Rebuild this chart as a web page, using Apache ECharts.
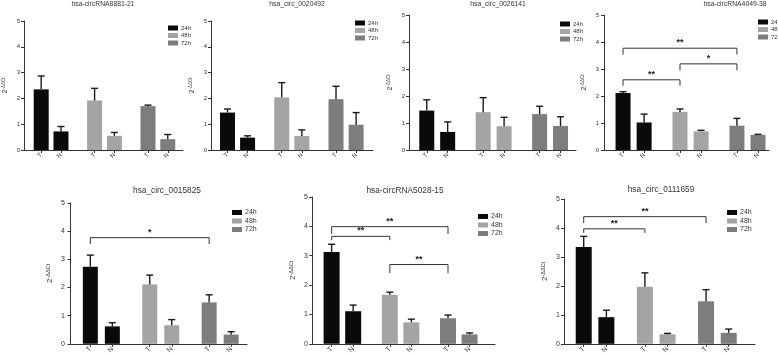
<!DOCTYPE html>
<html>
<head><meta charset="utf-8"></head>
<script type="text/javascript" src="https://cdn.jsdelivr.net/npm/echarts@6/dist/echarts.min.js"></script>
<body style="margin:0;background-color:white;">
    <div id="main" style="width:778px;height:356px;"></div>
</body>
<script>
// data (mean and SD per bar)
var panelTitles = ['hsa-circRNA8881-21', 'hsa_circ_0020492', 'hsa_circ_0026141', 'hsa-circRNA4049-38',
                   'hsa_circ_0015825', 'hsa-circRNA5028-15', 'hsa_circ_0111659']
var groups = ['24h', '48h', '72h']
var barLabels = ['T', 'N', 'T', 'N', 'T', 'N']
var barPos = [0.9, 1.9, 3.6, 4.6, 6.3, 7.3]
var yTicks = [0, 1, 2, 3, 4, 5]

var means = [
    [2.35, 0.72, 1.92, 0.55, 1.70, 0.42],
    [1.45, 0.48, 2.04, 0.54, 1.97, 0.98],
    [1.46, 0.67, 1.40, 0.88, 1.33, 0.89],
    [2.11, 1.02, 1.41, 0.69, 0.90, 0.56],
    [2.74, 0.62, 2.11, 0.66, 1.47, 0.33],
    [3.13, 1.11, 1.67, 0.73, 0.87, 0.32],
    [3.34, 0.92, 1.97, 0.33, 1.47, 0.38]
]
var sds = [
    [0.52, 0.19, 0.47, 0.13, 0.04, 0.18],
    [0.14, 0.07, 0.57, 0.24, 0.50, 0.47],
    [0.40, 0.37, 0.54, 0.33, 0.29, 0.34],
    [0.05, 0.31, 0.11, 0.04, 0.27, 0.02],
    [0.41, 0.13, 0.33, 0.20, 0.27, 0.10],
    [0.26, 0.21, 0.09, 0.11, 0.11, 0.05],
    [0.37, 0.24, 0.48, 0.03, 0.40, 0.13]
]
// significance brackets: [from bar, to bar, line y, arm end y, stars]
var brackets = [
    [],
    [],
    [],
    [[0, 4, 3.77, 3.53, '**'], [2, 4, 3.19, 2.95, '*'], [0, 2, 2.60, 2.38, '**']],
    [[0, 4, 3.77, 3.54, '*']],
    [[0, 4, 3.99, 3.74, '**'], [0, 2, 3.66, 3.53, '**'], [2, 4, 2.70, 2.41, '**']],
    [[0, 4, 4.39, 4.17, '**'], [0, 2, 3.97, 3.83, '**']]
]

var colors = ['#0a0a0a', '#a4a4a4', '#7d7d7d']
var font = 'Liberation Sans, Arial, sans-serif'

// panel boxes in px
var boxes = [
    {left: 21,  top: 21,  width: 162, height: 129, xMin: 0.03,  xMax: 8.07, tx: 103, ty: 1,   lx: 163, ly: 20,  bw: 15, fs: 6},
    {left: 211, top: 21,  width: 162, height: 129, xMin: 0.08,  xMax: 8.14, tx: 297, ty: 1,   lx: 350, ly: 15,  bw: 15, fs: 6},
    {left: 409, top: 15,  width: 167, height: 135, xMin: 0.05,  xMax: 8.04, tx: 498, ty: 1,   lx: 555, ly: 16,  bw: 15, fs: 6},
    {left: 603, top: 15,  width: 166, height: 135, xMin: -0.05, xMax: 7.82, tx: 735, ty: 1,   lx: 753, ly: 14,  bw: 15, fs: 6},
    {left: 69,  top: 203, width: 178, height: 141, xMin: -0.07, xMax: 8.02, tx: 167, ty: 187, lx: 227, ly: 204, bw: 15, fs: 7},
    {left: 312, top: 197, width: 183, height: 147, xMin: -0.01, xMax: 8.48, tx: 405, ty: 187, lx: 473, ly: 208, bw: 16, fs: 7},
    {left: 564, top: 199, width: 191, height: 145, xMin: 0.03,  xMax: 8.46, tx: 661, ty: 186, lx: 722, ly: 204, bw: 16, fs: 7}
]

var myChart = echarts.init(document.getElementById('main'))

var grids = [], xAxes = [], yAxes = [], titles = [], legends = [], series = []

boxes.forEach(function (b, p) {
    grids.push({left: b.left, top: b.top, width: b.width, height: b.height})
    titles.push({
        text: panelTitles[p], left: b.tx, top: b.ty, textAlign: 'center', padding: 0,
        textStyle: {fontSize: b.fs === 6 ? 6.8 : 8.3, fontWeight: 'normal', color: '#333', fontFamily: font}
    })
    legends.push({
        orient: 'vertical', left: b.lx, top: b.ly, icon: 'rect',
        itemWidth: 10, itemHeight: 5, itemGap: 1.5, selectedMode: false,
        textStyle: {fontSize: b.fs, color: '#333', fontFamily: font, padding: [0, 0, 0, -2]},
        data: groups
    })
    xAxes.push({
        gridIndex: p, type: 'value', min: b.xMin, max: b.xMax,
        splitLine: {show: false},
        axisLine: {lineStyle: {color: '#333', width: 1}},
        axisTick: {customValues: barPos, length: 3, lineStyle: {color: '#333'}},
        axisLabel: {
            customValues: barPos, rotate: 45, margin: 4, fontSize: b.fs, color: '#333', fontFamily: font,
            formatter: function (v) {
                var k = 0
                barPos.forEach(function (x, i) { if (Math.abs(x - v) < Math.abs(barPos[k] - v)) k = i })
                return barLabels[k]
            }
        }
    })
    yAxes.push({
        gridIndex: p, type: 'value', min: 0, max: 5, interval: 1,
        splitLine: {show: false},
        axisLine: {show: true, lineStyle: {color: '#333', width: 1}},
        axisTick: {show: true, length: 3, lineStyle: {color: '#333'}},
        axisLabel: {fontSize: b.fs, margin: 4, color: '#333', fontFamily: font},
        name: '{b|2}{s|-ΔΔCt}', nameLocation: 'middle', nameRotate: 90, nameGap: 14,
        nameTextStyle: {
            color: '#333', fontFamily: font,
            rich: {
                b: {fontSize: b.fs + 1, fontFamily: font, color: '#333'},
                s: {fontSize: b.fs - 1.5, fontFamily: font, color: '#333', padding: [0, 0, 4, 0]}
            }
        }
    })

    // bars, one series per time point
    groups.forEach(function (g, gi) {
        series.push({
            name: g, type: 'bar', xAxisIndex: p, yAxisIndex: p,
            barWidth: b.bw, barGap: '-100%',
            itemStyle: {color: colors[gi]},
            data: [[barPos[gi * 2], means[p][gi * 2]], [barPos[gi * 2 + 1], means[p][gi * 2 + 1]]]
        })
    })

    // upper error bars
    series.push({
        type: 'custom', xAxisIndex: p, yAxisIndex: p, z: 5,
        data: means[p].map(function (m, i) { return [barPos[i], m, m + sds[p][i]] }),
        encode: {x: 0, y: [1, 2]},
        renderItem: function (params, api) {
            var a = api.coord([api.value(0), api.value(1)])
            var t = api.coord([api.value(0), api.value(2)])
            var st = {stroke: '#1a1a1a', lineWidth: 1.4}
            return {type: 'group', children: [
                {type: 'line', shape: {x1: a[0], y1: a[1], x2: t[0], y2: t[1]}, style: st},
                {type: 'line', shape: {x1: t[0] - 3.5, y1: t[1], x2: t[0] + 3.5, y2: t[1]}, style: st}
            ]}
        }
    })

    // significance brackets
    if (brackets[p].length) {
        series.push({
            type: 'custom', xAxisIndex: p, yAxisIndex: p, z: 6,
            data: brackets[p].map(function (r) { return [barPos[r[0]], barPos[r[1]], r[2], r[3], r[4]] }),
            encode: {x: [0, 1], y: [2, 3]},
            renderItem: function (params, api) {
                var x1 = api.value(0), x2 = api.value(1), yl = api.value(2), ya = api.value(3)
                var p1 = api.coord([x1, ya]), p2 = api.coord([x1, yl]), p3 = api.coord([x2, yl]), p4 = api.coord([x2, ya])
                return {type: 'group', children: [
                    {type: 'polyline', shape: {points: [p1, p2, p3, p4]}, style: {stroke: '#333', lineWidth: 1, fill: null}},
                    {type: 'text', x: (p2[0] + p3[0]) / 2, y: p2[1] - 1,
                     style: {text: api.value(4), fill: '#222', fontSize: 9, fontWeight: 'bold', fontFamily: font,
                             align: 'center', verticalAlign: 'bottom'}}
                ]}
            }
        })
    }
})

var option = {
    animation: false,
    backgroundColor: '#fff',
    title: titles,
    legend: legends,
    grid: grids,
    xAxis: xAxes,
    yAxis: yAxes,
    series: series
}

option && myChart.setOption(option)
</script>
</html>
